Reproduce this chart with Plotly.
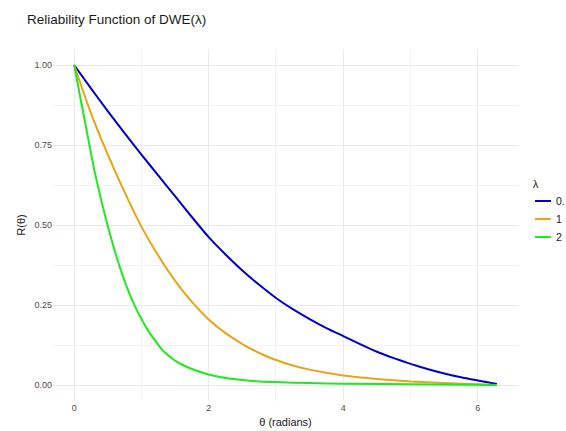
import plotly.graph_objects as go

# Data
theta_a = [0, 0.25, 0.5, 0.75, 1.0, 1.25, 1.5, 1.75, 2.0, 2.25, 2.5, 2.75, 3.0,
           3.25, 3.5, 3.75, 4.0, 4.25, 4.5, 4.75, 5.0, 5.25, 5.5, 5.75, 6.0, 6.283]
r_a = [1.0, 0.927, 0.856, 0.787, 0.72, 0.655, 0.59, 0.525, 0.462, 0.408, 0.358, 0.313,
       0.272, 0.237, 0.206, 0.178, 0.153, 0.128, 0.104, 0.084, 0.066, 0.050, 0.036,
       0.024, 0.014, 0.003]

theta_b = [0, 0.2, 0.4, 0.6, 0.8, 1.0, 1.2, 1.4, 1.6, 1.8, 2.0, 2.25, 2.5, 2.75,
           3.0, 3.25, 3.5, 3.75, 4.0, 4.5, 5.0, 5.5, 6.0, 6.283]
r_b = [1.0, 0.878, 0.77, 0.672, 0.58, 0.495, 0.422, 0.356, 0.298, 0.248, 0.205, 0.162,
       0.128, 0.1, 0.078, 0.061, 0.048, 0.038, 0.03, 0.019, 0.011, 0.006, 0.002, 0.0]

theta_c = [0, 0.1, 0.2, 0.3, 0.4, 0.5, 0.6, 0.7, 0.8, 0.9, 1.0, 1.1, 1.2, 1.3, 1.4,
           1.5, 1.6, 1.8, 2.0, 2.3, 2.7, 3.0, 3.5, 4.0, 5.0, 6.283]
r_c = [1.0, 0.89, 0.78, 0.672, 0.58, 0.497, 0.422, 0.355, 0.297, 0.248, 0.206, 0.17,
       0.14, 0.112, 0.092, 0.076, 0.064, 0.046, 0.033, 0.02, 0.012, 0.009, 0.006, 0.004,
       0.002, 0.0]

series_names = ["0.", "1", "2"]   # first label appears truncated in the reference
series_colors = ["#0000CD", "#E8A617", "#22E822"]

x_ticks = [0, 2, 4, 6]
y_ticks = [0.0, 0.25, 0.5, 0.75, 1.0]
y_tick_text = ["0.00", "0.25", "0.50", "0.75", "1.00"]

FONT = "Liberation Sans, Arial, sans-serif"
W, H = 566, 431
ML, MR, MT, MB = 53, 48, 49, 30
PW, PH = W - ML - MR, H - MT - MB


def px_x(px):
    return (px - ML) / PW


def px_y(py):
    return (H - MB - py) / PH


fig = go.Figure()
for th, r, name, col in zip([theta_a, theta_b, theta_c], [r_a, r_b, r_c],
                            series_names, series_colors):
    fig.add_trace(go.Scatter(x=th, y=r, mode="lines", name=name, showlegend=False,
                             line=dict(color=col, width=2, shape="spline", smoothing=0.5)))

# Manual legend (ggplot style: short key lines)
annotations = [dict(text="λ", xref="paper", yref="paper", x=px_x(532), y=px_y(184),
                    xanchor="left", yanchor="middle", showarrow=False, borderpad=0,
                    font=dict(size=10.5, color="#1A1A1A", family=FONT))]
shapes = []
for i, (name, col) in enumerate(zip(series_names, series_colors)):
    yy = 201 + 18 * i
    shapes.append(dict(type="line", xref="paper", yref="paper",
                       x0=px_x(535), x1=px_x(551), y0=px_y(yy), y1=px_y(yy),
                       line=dict(color=col, width=2)))
    annotations.append(dict(text=name, xref="paper", yref="paper", x=px_x(555), y=px_y(yy),
                            xanchor="left", yanchor="middle", showarrow=False, borderpad=0,
                            font=dict(size=10.5, color="#1A1A1A", family=FONT)))

fig.update_layout(
    width=W, height=H,
    margin=dict(l=ML, r=MR, t=MT, b=MB, autoexpand=False),
    paper_bgcolor="white", plot_bgcolor="white",
    font=dict(family=FONT, color="#4D4D4D"),
    showlegend=False,
    title=dict(text="Reliability Function of DWE(λ)", x=27/W, xref="container",
               xanchor="left", y=1 - 19/H, yref="container", yanchor="middle",
               font=dict(size=13.5, color="#1A1A1A", family=FONT)),
    annotations=annotations,
    shapes=shapes,
    xaxis=dict(range=[-0.314, 6.597], tickvals=x_ticks, ticktext=[str(v) for v in x_ticks],
               automargin=False,
               showgrid=True, gridcolor="#EBEBEB", gridwidth=1, zeroline=False,
               showline=False, ticks="", tickfont=dict(size=9, color="#4D4D4D"),
               minor=dict(tickvals=[1, 3, 5], showgrid=True, gridcolor="#F3F3F3", gridwidth=1),
               title=dict(text="θ (radians)", font=dict(size=11, color="#1A1A1A"), standoff=6)),
    yaxis=dict(range=[-0.05, 1.05], tickvals=y_ticks, ticktext=y_tick_text,
               automargin=False,
               showgrid=True, gridcolor="#EBEBEB", gridwidth=1, zeroline=False,
               showline=False, ticks="", tickfont=dict(size=9, color="#4D4D4D"),
               minor=dict(tickvals=[0.125, 0.375, 0.625, 0.875], showgrid=True,
                          gridcolor="#F3F3F3", gridwidth=1),
               title=dict(text="R(θ)", font=dict(size=11, color="#1A1A1A"), standoff=6)),
)

fig.write_html("out.html")
